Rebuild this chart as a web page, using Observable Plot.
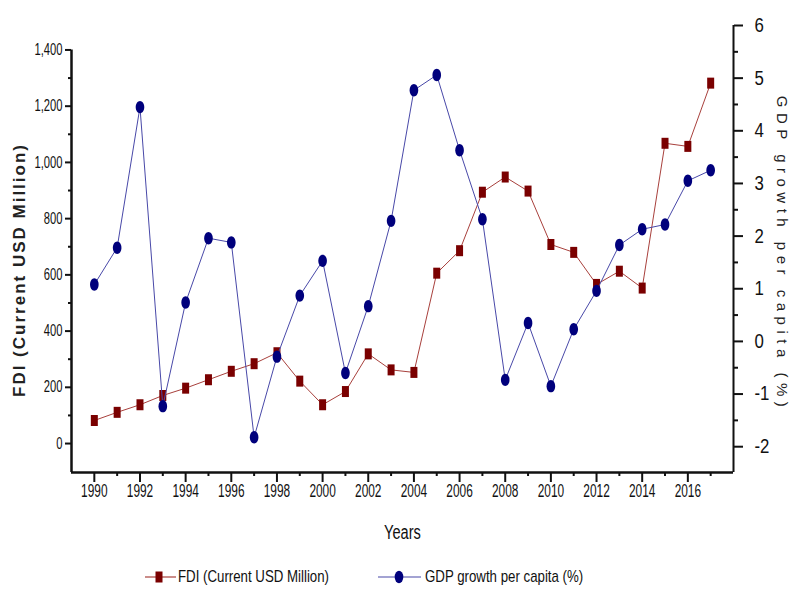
<!DOCTYPE html>
<html><head><meta charset="utf-8">
<script src="https://cdn.jsdelivr.net/npm/d3@7"></script>
<script src="https://cdn.jsdelivr.net/npm/@observablehq/plot@0.6"></script>
<style>
body{margin:0;background:#fff;}
#wrap{position:relative;width:800px;height:600px;overflow:hidden;}
#legend{position:absolute;top:565px;left:0;width:800px;height:24px;font-family:"Liberation Sans Narrow","Arial Narrow","Liberation Sans",sans-serif;}
.item{position:absolute;top:0;height:24px;display:flex;align-items:center;font-size:17px;color:#111;white-space:nowrap;}
.item svg{display:block;}
.item span{display:inline-block;transform:scaleX(0.78);transform-origin:left center;}
</style></head>
<body><div id="wrap"><div id="chart"></div><div id="legend"></div></div>
<script>
const years = [1990,1991,1992,1993,1994,1995,1996,1997,1998,1999,2000,2001,2002,2003,2004,2005,2006,2007,2008,2009,2010,2011,2012,2013,2014,2015,2016,2017];
const fdi = [82,111,138,171,197,227,257,284,323,222,138,185,319,262,253,606,686,894,948,898,708,680,566,613,553,1068,1057,1282];
const gdp = [1.08,1.78,4.45,-1.23,0.74,1.96,1.88,-1.82,-0.29,0.87,1.53,-0.60,0.67,2.29,4.77,5.06,3.63,2.32,-0.73,0.35,-0.85,0.23,0.96,1.83,2.13,2.22,3.05,3.25];
const fdiTicks = [0,200,400,600,800,1000,1200,1400];
const fdiMinorTicks = [100,300,500,700,900,1100,1300];
const gdpTicks = [-2,-1,0,1,2,3,4,5,6];
const gdpMinorTicks = [-1.5,-0.5,0.5,1.5,2.5,3.5,4.5,5.5];
const yearTicks = [1990,1992,1994,1996,1998,2000,2002,2004,2006,2008,2010,2012,2014,2016];
const yearMinorTicks = [1991,1993,1995,1997,1999,2001,2003,2005,2007,2009,2011,2013,2015,2017];
const xDomain = [1989, 2018];
const yDomain = [-103, 1487];
const gdpDomain = [-2.49, 6];
const seriesNames = ["FDI (Current USD Million)", "GDP growth per capita (%)"];
const xTitle = "Years";
const colors = {fdiLine:"#a8403c", fdiMark:"#7a0000", gdpLine:"#4848a8", gdpMark:"#00007c"};

const gdpToY = g => yDomain[0] + (g - gdpDomain[0]) / (gdpDomain[1] - gdpDomain[0]) * (yDomain[1] - yDomain[0]);
const yToGdp = v => gdpDomain[0] + (v - yDomain[0]) / (yDomain[1] - yDomain[0]) * (gdpDomain[1] - gdpDomain[0]);

const data = years.map((year, i) => ({year, fdi: fdi[i], gdp: gdp[i], gy: gdpToY(gdp[i])}));

const squareSym = {draw(ctx){ctx.moveTo(-3.5,-5.5);ctx.lineTo(3.5,-5.5);ctx.lineTo(3.5,5.5);ctx.lineTo(-3.5,5.5);ctx.closePath();}};
const ellipseSym = {draw(ctx){const rx=4.3, ry=6.2, k=0.5523;
  ctx.moveTo(rx,0);
  ctx.bezierCurveTo(rx,k*ry,k*rx,ry,0,ry);
  ctx.bezierCurveTo(-k*rx,ry,-rx,k*ry,-rx,0);
  ctx.bezierCurveTo(-rx,-k*ry,-k*rx,-ry,0,-ry);
  ctx.bezierCurveTo(k*rx,-ry,rx,-k*ry,rx,0);
  ctx.closePath();}};

const comma = d3.format(",");
const font = '"Liberation Sans Narrow","Arial Narrow","Liberation Sans",sans-serif';
const chart = Plot.plot({
  width: 800, height: 548,
  marginLeft: 71, marginRight: 67, marginTop: 25, marginBottom: 76,
  style: {fontFamily: font, fontSize: "15px", color: "#111", background: "#fff", overflow: "visible"},
  x: {domain: xDomain, label: null},
  y: {domain: yDomain, label: null},
  marks: [
    Plot.axisX(yearTicks, {tickSize: 10, tickPadding: 2, tickFormat: d => String(d), strokeWidth: 2, fontSize: 18, label: null}),
    Plot.axisX(yearMinorTicks, {tickSize: 4, tickFormat: () => "", strokeWidth: 2, label: null}),
    Plot.axisY(fdiTicks, {anchor: "left", tickSize: 6, tickPadding: 3, tickFormat: d => comma(d), strokeWidth: 2, fontSize: 16, label: null}),
    Plot.axisY(fdiMinorTicks, {anchor: "left", tickSize: 3, tickFormat: () => "", strokeWidth: 2, label: null}),
    Plot.axisY(gdpTicks.map(gdpToY), {anchor: "right", tickSize: 9, tickPadding: 12, tickFormat: v => String(Math.round(yToGdp(v))), strokeWidth: 2, fontSize: 20, label: null}),
    Plot.axisY(gdpMinorTicks.map(gdpToY), {anchor: "right", tickSize: 4, tickFormat: () => "", strokeWidth: 2, label: null}),
    Plot.ruleY([yDomain[0]], {strokeWidth: 2.5}),
    Plot.ruleX([xDomain[1]], {strokeWidth: 2}),
    Plot.ruleX([xDomain[0]], {y1: yDomain[0], y2: d3.max(fdiTicks), strokeWidth: 2.5}),
    Plot.line(data, {x: "year", y: "fdi", stroke: colors.fdiLine, strokeWidth: 1}),
    Plot.dot(data, {x: "year", y: "fdi", symbol: squareSym, fill: colors.fdiMark, stroke: "none", r: 5}),
    Plot.line(data, {x: "year", y: "gy", stroke: colors.gdpLine, strokeWidth: 1}),
    Plot.dot(data, {x: "year", y: "gy", symbol: ellipseSym, fill: colors.gdpMark, stroke: "none", r: 5}),
    Plot.text([seriesNames[0]], {frameAnchor: "left", dx: -52, dy: 21, rotate: -90, textAnchor: "middle", lineAnchor: "middle", fontWeight: "bold", fontSize: 17, fontFamily: "Liberation Sans, Arial, sans-serif", fill: "#222"}),
    Plot.text([seriesNames[1]], {frameAnchor: "right", dx: 48, dy: 5, rotate: 90, textAnchor: "middle", lineAnchor: "middle", fontSize: 15, fontFamily: "Liberation Sans, Arial, sans-serif", fill: "#222"}),
    Plot.text([xTitle], {frameAnchor: "bottom", dy: 60, textAnchor: "middle", lineAnchor: "middle", fontSize: 20, fill: "#111"})
  ]
});
document.getElementById("chart").appendChild(chart);
const svg = d3.select(chart);
svg.selectAll("text").filter(function(){return this.textContent === seriesNames[0];}).attr("letter-spacing", "2px");
svg.selectAll("text").filter(function(){return this.textContent === seriesNames[1];}).attr("letter-spacing", "5.5px");

function compress(sel, f) {
  sel.each(function(){
    const w = this.getComputedTextLength();
    if (w > 0) { this.setAttribute("textLength", (w * f).toFixed(2)); this.setAttribute("lengthAdjust", "spacingAndGlyphs"); }
  });
}
compress(svg.selectAll('g[aria-label="x-axis tick label"] text'), 0.66);
svg.selectAll('g[aria-label="y-axis tick label"]').each(function(){
  const anchor = this.getAttribute("text-anchor");
  compress(d3.select(this).selectAll("text"), anchor === "start" ? 0.84 : 0.7);
});
compress(svg.selectAll("text").filter(function(){return this.textContent === xTitle;}), 0.73);

const legend = document.getElementById("legend");
legend.innerHTML = `
<div class="item" style="left:145px"><svg width="31" height="14"><line x1="0" x2="31" y1="7" y2="7" stroke="${colors.fdiLine}" stroke-width="1.2"/><rect x="10.5" y="1.5" width="7" height="11" fill="${colors.fdiMark}"/></svg><span style="margin-left:2px">${seriesNames[0]}</span></div>
<div class="item" style="left:378px"><svg width="43" height="14"><line x1="0" x2="43" y1="7" y2="7" stroke="${colors.gdpLine}" stroke-width="1.2"/><ellipse cx="21" cy="7" rx="4.3" ry="6.2" fill="${colors.gdpMark}"/></svg><span style="margin-left:4px">${seriesNames[1]}</span></div>`;
</script>
</body></html>
